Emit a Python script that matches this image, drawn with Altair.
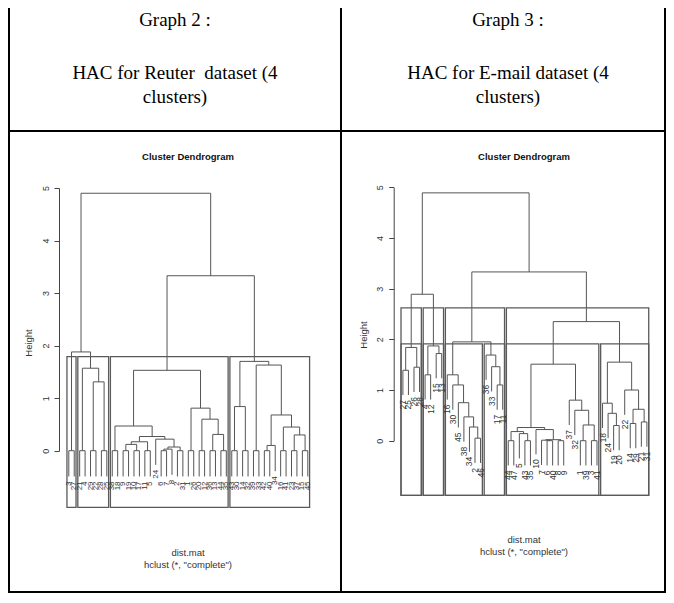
import altair as alt
import pandas as pd

NARROW = "Liberation Sans Narrow, Arial Narrow, Liberation Sans, Arial, sans-serif"
SERIF = "Liberation Serif, Times New Roman, serif"

# ---------------- header texts ----------------
header_left = ["Graph 2 :", "HAC for Reuter\u00a0 dataset (4", "clusters)"]
header_right = ["Graph 3 :", "HAC for E-mail dataset (4", "clusters)"]
plot_title = "Cluster Dendrogram"
y_title = "Height"
sub_titles = ["dist.mat", 'hclust (*, "complete")']
y_ticks = [0, 1, 2, 3, 4, 5]

# ---------------- Reuter dataset: leaves in plotted order ----------------
reuter_labels = ["3", "27", "21", "4", "29", "22", "28", "25", "38", "18", "9", "19", "10",
                 "17", "11", "5", "24", "6", "7", "8", "2", "31", "1", "26", "20", "12",
                 "36", "13", "44", "35", "43", "30", "14", "32", "39", "33", "42", "40",
                 "34", "16", "41", "23", "37", "15", "45"]
# merges written as (left, right, height); integers are leaf positions
reuter_c1 = (1, 2, 0.0)
reuter_c2 = ((3, 4, 0.0), ((5, 6, 0.0), (7, 8, 0.0), 1.31), 1.57)
reuter_c3a = ((9, 10, 0.0),
              ((((11, 12, 0.0), (13, 14, 0.0), 0.12), (15, 16, 0.0), 0.17),
               (17, (((18, 19, 0.0), 20, 0.03), (21, 22, 0.0), 0.07), 0.22), 0.27), 0.47)
reuter_c3b = ((23, 24, 0.0), ((25, 26, 0.0), ((27, 28, 0.0), (29, 30, 0.0), 0.31), 0.60), 0.81)
reuter_c4a = ((31, 32, 0.0), (33, 34, 0.0), 0.84)
reuter_c4b = ((35, 36, 0.0),
              (((37, 38, 0.0), 39, 0.10), ((40, 41, 0.0), ((42, 43, 0.0), (44, 45, 0.0), 0.30), 0.45), 0.68),
              1.63)
reuter_tree = ((reuter_c1, reuter_c2, 1.88),
               ((reuter_c3a, reuter_c3b, 1.53), (reuter_c4a, reuter_c4b, 1.70), 3.33), 4.90)
reuter_k = [4]

# ---------------- E-mail dataset ----------------
email_labels = ["27", "25", "26", "28", "4", "12", "15", "13", "16", "30", "45", "38", "34",
                "2", "46", "36", "33", "17", "11", "44", "47", "5", "43", "35", "10", "7",
                "6", "40", "8", "9", "37", "32", "1", "39", "3", "41", "18", "24", "19",
                "20", "22", "14", "29", "21", "31"]
email_b1 = ((1, 2, 1.39), (3, 4, 1.45), 1.84)
email_b2 = ((5, 6, 1.30), (7, 8, 1.72), 1.87)
email_b3 = (9, (10, (11, (12, (13, (14, 15, 0.05), 0.27), 0.47), 0.75), 1.10), 1.30)
email_b4 = (16, (17, (18, 19, 1.10), 1.46), 1.69)
email_b5a = (((20, 21, 0.0), (22, (23, 24, 0.0), 0.14), 0.18),
             (25, ((26, (27, 28, 0.0), 0.01), (29, 30, 0.0), 0.02), 0.22), 0.26)
email_b5b = (31, (32, ((33, 34, 0.0), (35, 36, 0.0), 0.31), 0.60), 0.80)
email_b6 = ((37, (38, (39, 40, 0.30), 0.54), 0.74),
            (41, ((42, 43, 0.34), (44, 45, 0.37), 0.62), 1.00), 1.55)
email_tree = ((email_b1, email_b2, 2.89),
              ((email_b3, email_b4, 1.95), ((email_b5a, email_b5b, 1.51), email_b6, 2.35), 3.33),
              4.89)
email_k = [4, 6]

plot_bottom = -1.08  # lower limit of the plot region (height units), used by rect.hclust


# ---------------- dendrogram layout (like R plot.hclust / rect.hclust) ----------------
def is_leaf(n):
    return not isinstance(n, tuple)


def leaf_ids(n):
    return [n] if is_leaf(n) else leaf_ids(n[0]) + leaf_ids(n[1])


def merge_heights(n):
    return [] if is_leaf(n) else merge_heights(n[0]) + merge_heights(n[1]) + [n[2]]


def dendro_data(tree, labels):
    hang = 0.1 * max(merge_heights(tree))
    segs, leaves, pos = [], [], {}

    def walk(node):
        if is_leaf(node):
            pos[node] = len(pos) + 1
            return float(pos[node]), None
        left, right, h = node
        xl, hl = walk(left)
        xr, hr = walk(right)
        bl = h - hang if hl is None else hl
        br = h - hang if hr is None else hr
        if hl is None:
            leaves.append({"x": xl, "y": bl, "label": labels[pos[left] - 1]})
        if hr is None:
            leaves.append({"x": xr, "y": br, "label": labels[pos[right] - 1]})
        segs.extend([
            {"x": xl, "x2": xr, "y": h, "y2": h},
            {"x": xl, "x2": xl, "y": h, "y2": bl},
            {"x": xr, "x2": xr, "y": h, "y2": br},
        ])
        return (xl + xr) / 2, h

    walk(tree)
    return pd.DataFrame(segs), pd.DataFrame(leaves), pos


def cut_boxes(tree, k, pos):
    hs = sorted(merge_heights(tree), reverse=True)
    cut = (hs[k - 2] + hs[k - 1]) / 2

    def groups(node):
        if not is_leaf(node) and node[2] > cut:
            return groups(node[0]) + groups(node[1])
        return [leaf_ids(node)]

    rows = []
    for g in groups(tree):
        p = [pos[i] for i in g]
        rows.append({"x": min(p) - 0.34, "x2": max(p) + 0.33, "y": plot_bottom, "y2": cut})
    return rows


LINE = "#555555"


def dendro_layers(tree, labels, ks, x_px, y_px, axis_x, label_size):
    seg_df, leaf_df, pos = dendro_data(tree, labels)
    n = len(pos)
    box_df = pd.DataFrame([r for k in ks for r in cut_boxes(tree, k, pos)])
    xs = alt.Scale(domain=[1, n], range=x_px, nice=False, zero=False)
    ys = alt.Scale(domain=[0, 5], range=y_px, nice=False, zero=False)
    axis = alt.Axis(orient="left", offset=-axis_x, values=y_ticks, grid=False, title=None,
                    domainColor="#444444", tickColor="#444444", tickSize=5,
                    labelAngle=270, labelAlign="center", labelBaseline="bottom",
                    labelPadding=4, labelFontSize=9, labelFont=NARROW, labelColor="#333333",
                    labelFlush=False)
    segs = alt.Chart(seg_df).mark_rule(color=LINE, strokeWidth=1).encode(
        x=alt.X("x:Q", scale=xs, axis=None), x2="x2:Q",
        y=alt.Y("y:Q", scale=ys, axis=axis), y2="y2:Q")
    boxes = alt.Chart(box_df).mark_rect(fillOpacity=0, stroke="#5a5a5a", strokeWidth=1.3).encode(
        x=alt.X("x:Q", scale=xs, axis=None), x2="x2:Q",
        y=alt.Y("y:Q", scale=ys, axis=None), y2="y2:Q")
    labs = alt.Chart(leaf_df).mark_text(angle=270, align="right", baseline="middle", dx=-5,
                                        fontSize=label_size, font=NARROW, color="#333333").encode(
        x=alt.X("x:Q", scale=xs, axis=None),
        y=alt.Y("y:Q", scale=ys, axis=None),
        text="label:N")
    return [segs, boxes, labs]


def txt(s, x, y, size, font, weight="normal", angle=0, color="#222222"):
    return alt.Chart(alt.Data(values=[{"t": s}])).mark_text(
        fontSize=size, font=font, fontWeight=weight, angle=angle, color=color,
        align="center", baseline="middle").encode(
        x=alt.value(x), y=alt.value(y), text="t:N")


W, H = 658, 585
one = alt.Data(values=[{}])

layers = [
    alt.Chart(one).mark_rule(color="black", strokeWidth=2).encode(
        x=alt.value(1), y=alt.value(0), y2=alt.value(H)),
    alt.Chart(one).mark_rule(color="black", strokeWidth=2).encode(
        x=alt.value(333), y=alt.value(0), y2=alt.value(H)),
    alt.Chart(one).mark_rule(color="black", strokeWidth=2).encode(
        x=alt.value(W - 1), y=alt.value(0), y2=alt.value(H)),
    alt.Chart(one).mark_rule(color="black", strokeWidth=2).encode(
        x=alt.value(0), x2=alt.value(W), y=alt.value(123)),
    alt.Chart(one).mark_rule(color="black", strokeWidth=2).encode(
        x=alt.value(0), x2=alt.value(W), y=alt.value(H - 1)),
]

# header row
for cx, lines in [(167, header_left), (500, header_right)]:
    for s, cy in zip(lines, [12, 65, 89]):
        layers.append(txt(s, cx, cy, 19, SERIF, color="black"))

# panel texts
for cx, ty, hx, hy, dy in [(180, 149, 21, 335, 545), (516, 149, 356, 327, 532)]:
    layers.append(txt(plot_title, cx, ty, 9.5, NARROW, weight="bold", color="#111111"))
    layers.append(txt(y_title, hx, hy, 9.5, NARROW, angle=270, color="#333333"))
    layers.append(txt(sub_titles[0], cx, dy, 9.5, NARROW, color="#333333"))
    layers.append(txt(sub_titles[1], cx, dy + 12, 9.5, NARROW, color="#333333"))

layers += dendro_layers(reuter_tree, reuter_labels, reuter_k,
                        [60.8, 299.8], [442.7, 180.0], 51, 8)
layers += dendro_layers(email_tree, email_labels, email_k,
                        [394.9, 638.9], [432.7, 179.3], 385.7, 8.5)

chart = alt.layer(*layers).resolve_scale(
    x="independent", y="independent"
).properties(
    width=W, height=H, padding=0, autosize=alt.AutoSizeParams(type="none")
).configure_view(strokeWidth=0)

chart.save("out.html", embed_options={"renderer": "svg", "actions": False})
